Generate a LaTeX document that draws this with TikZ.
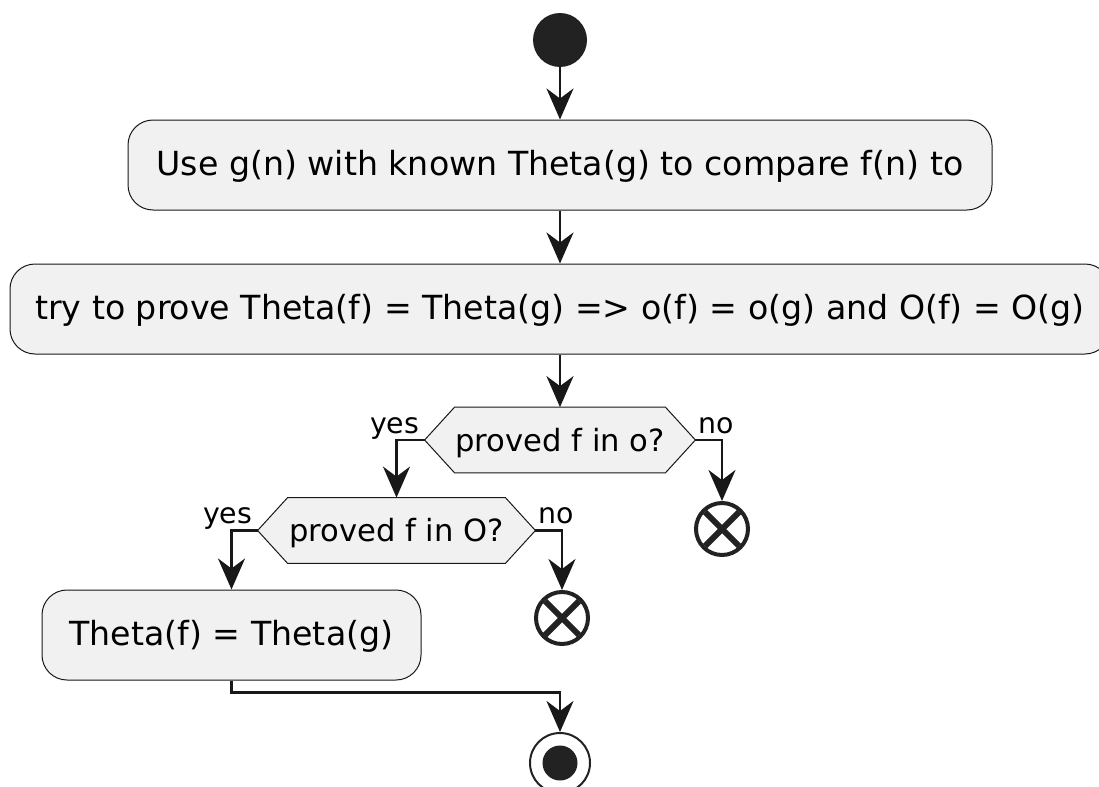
\documentclass[tikz,border=0pt]{standalone}
\usepackage{fontspec}
\setmainfont{DejaVu Sans}
\usetikzlibrary{arrows.meta,positioning,calc,backgrounds}
\definecolor{boxfill}{HTML}{F1F1F1}
\definecolor{ink}{HTML}{181818}
\definecolor{dot}{HTML}{222222}
% hexagon round a decision node
\newcommand\hexbox[1]{\path[draw=ink,fill=boxfill,line width=0.5pt] (#1.west) -- ([xshift=15pt]#1.north west)
  -- ([xshift=-15pt]#1.north east) -- (#1.east) -- ([xshift=-15pt]#1.south east) -- ([xshift=15pt]#1.south west) -- cycle;}

\begin{document}
\begin{tikzpicture}[x=0.5pt,y=-0.5pt,every node/.style={font=\fontsize{16.6}{19}\selectfont},
 act/.style={draw=ink,fill=boxfill,line width=0.5pt,rounded corners=12.5pt,minimum height=45pt,inner sep=0pt,
   text height=11pt,text depth=1pt},
 dec/.style={minimum height=32.5pt,inner sep=0pt,font=\fontsize{15.3}{18}\selectfont,text height=11pt,text depth=0pt},
 lbl/.style={inner sep=0pt,font=\fontsize{14.2}{17}\selectfont},
 flow/.style={draw=ink,line width=1.25pt,-{Stealth[length=15.5pt,width=13.5pt,inset=5pt]}},
 startdot/.style={circle,fill=dot,minimum size=27pt,inner sep=0pt},
 enddot/.style={circle,draw=dot,line width=2pt,minimum size=26pt,inner sep=0pt,
   path picture={\draw[dot,line width=3pt] (path picture bounding box.center) +(-8.5pt,-8.5pt) -- +(8.5pt,8.5pt) +(-8.5pt,8.5pt) -- +(8.5pt,-8.5pt);}},
 stopdot/.style={circle,draw=dot,line width=1pt,minimum size=30pt,inner sep=0pt,
   path picture={\fill[dot] (path picture bounding box.center) circle (8.75pt);}}]
\useasboundingbox (0,0) rectangle (1099,787);
\clip (0,0) rectangle (1099,787);

\node[startdot] (start) at (560,40) {};
\node[act,minimum width=432pt] (compare) at (560,165) {Use g(n) with known Theta(g) to compare f(n) to};
\node[act,minimum width=550pt] (prove) at (560,309) {try to prove Theta(f) = Theta(g) => o(f) = o(g) and O(f) = O(g)};
\node[dec,minimum width=135pt] (small) at (560,440) {proved f in o?};
\node[dec,minimum width=138.5pt] (big) at (396.5,530.5) {proved f in O?};
\node[act,minimum width=189.5pt] (theta) at (231.5,635) {Theta(f) = Theta(g)};
\node[enddot] (endsmall) at (722,529) {};
\node[enddot] (endbig) at (562,618) {};
\node[stopdot] (stop) at (560,763) {};

\begin{scope}[on background layer]
\hexbox{small}
\hexbox{big}
\end{scope}

% branch labels
\node[lbl,anchor=base east] at ([xshift=-2.5pt,yshift=3.5pt]small.west) {yes};
\node[lbl,anchor=base west] at ([xshift=1.5pt,yshift=3.5pt]small.east) {no};
\node[lbl,anchor=base east] at ([xshift=-2.5pt,yshift=3.5pt]big.west) {yes};
\node[lbl,anchor=base west] at ([xshift=1.5pt,yshift=3.5pt]big.east) {no};

\draw[flow] (start) -- (compare);
\draw[flow] (compare) -- (prove);
\draw[flow] (prove) -- (small);
\draw[flow] (small.west) -| (big.north);
\draw[flow] (small.east) -| (endsmall);
\draw[flow] (big.west) -| (theta.north);
\draw[flow] (big.east) -| (endbig);
\draw[flow] (theta.south) -- ++(0,12) -| (stop.north);
\end{tikzpicture}
\end{document}
